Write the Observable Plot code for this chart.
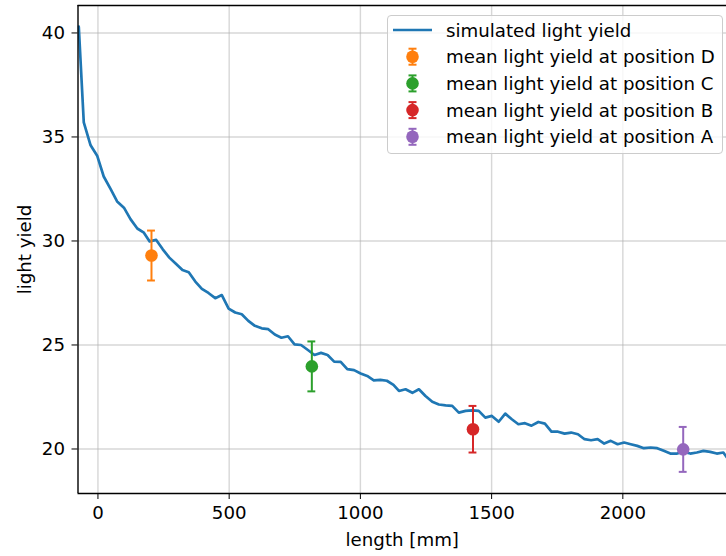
<!DOCTYPE html>
<html>
<head>
<meta charset="utf-8">
<script src="https://cdn.jsdelivr.net/npm/d3@7"></script>
<script src="https://cdn.jsdelivr.net/npm/@observablehq/plot@0.6"></script>
<style>
  html, body { margin: 0; padding: 0; background: #fff; }
  #wrap { position: relative; width: 726px; height: 556px; font-family: "DejaVu Sans", sans-serif; }
  #legend { position: absolute; left: 386.5px; top: 15px; width: 336px; height: 139px;
    border: 1px solid #cccccc; border-radius: 4px; background: rgba(255,255,255,0.8); box-sizing: border-box; }
</style>
</head>
<body>
<div id="wrap"></div>
<script>
// simulated light yield curve
const simX = [-73, -54, -28, -3, 22, 48, 73, 99, 124, 150, 175, 197, 222, 247, 272, 297, 322, 346, 371, 396, 421, 447, 472, 498, 523, 548, 573, 598, 624, 649, 674, 699, 724, 749, 774, 800, 825, 850, 875, 900, 925, 950, 976, 1001, 1026, 1051, 1076, 1101, 1126, 1147, 1172, 1198, 1223, 1248, 1274, 1299, 1325, 1350, 1375, 1401, 1426, 1451, 1476, 1501, 1527, 1552, 1577, 1602, 1627, 1652, 1678, 1703, 1728, 1753, 1778, 1803, 1829, 1854, 1879, 1904, 1929, 1954, 1980, 2005, 2030, 2055, 2080, 2106, 2131, 2156, 2181, 2207, 2232, 2257, 2282, 2307, 2333, 2358, 2383, 2410];
const simY = [40.3, 35.7, 34.6, 34.1, 33.1, 32.5, 31.9, 31.6, 31.05, 30.6, 30.4, 29.98, 30.05, 29.6, 29.2, 28.9, 28.6, 28.5, 28.05, 27.7, 27.5, 27.25, 27.4, 26.75, 26.56, 26.48, 26.16, 25.92, 25.8, 25.76, 25.5, 25.35, 25.42, 25.03, 25.0, 24.76, 24.52, 24.62, 24.52, 24.2, 24.19, 23.84, 23.79, 23.63, 23.51, 23.3, 23.32, 23.28, 23.08, 22.79, 22.87, 22.7, 22.87, 22.55, 22.27, 22.14, 22.1, 22.07, 21.75, 21.83, 21.86, 21.83, 21.51, 21.59, 21.31, 21.7, 21.43, 21.19, 21.24, 21.12, 21.3, 21.22, 20.83, 20.83, 20.74, 20.79, 20.71, 20.47, 20.42, 20.47, 20.26, 20.39, 20.23, 20.31, 20.23, 20.15, 20.04, 20.07, 20.04, 19.91, 19.78, 19.78, 19.86, 19.78, 19.83, 19.91, 19.86, 19.78, 19.83, 19.35];

// measured mean light yield with errors
const posLabels = ["D", "C", "B", "A"];
const posX = [204, 815, 1429, 2230];
const posY = [29.3, 23.97, 20.95, 19.98];
const posErr = [1.2, 1.2, 1.12, 1.08];
const posColors = ["#ff7f0e", "#2ca02c", "#d62728", "#9467bd"];

const xTicks = [0, 500, 1000, 1500, 2000];
const yTicks = [20, 25, 30, 35, 40];
const xDomain = [-76, 2395];
const yDomain = [17.86, 41.32];

const sim = simX.map((x, i) => ({x, y: simY[i]}));
const pts = posX.map((x, i) => ({label: posLabels[i], x, y: posY[i], err: posErr[i], color: posColors[i]}));
const capHalf = 15; // mm

const chart = Plot.plot({
  width: 726,
  height: 556,
  marginLeft: 77.5,
  marginRight: 0,
  marginTop: 5,
  marginBottom: 63,
  style: {fontFamily: "DejaVu Sans, sans-serif", fontSize: "18.2px", color: "#000", background: "transparent"},
  x: {domain: xDomain, ticks: xTicks, tickFormat: d3.format("d"), tickSize: 6, tickPadding: 7,
      label: "length [mm]", labelAnchor: "center", labelOffset: 52, labelArrow: false},
  y: {domain: yDomain, ticks: yTicks, tickFormat: d3.format("d"), tickSize: 6, tickPadding: 7,
      label: "light yield", labelAnchor: "center", labelOffset: 60, labelArrow: false},
  marks: [
    Plot.gridX(xTicks, {stroke: "#b0b0b0", strokeOpacity: 0.5, strokeWidth: 1.4}),
    Plot.gridY(yTicks, {stroke: "#b0b0b0", strokeOpacity: 0.5, strokeWidth: 1.4}),
    Plot.line(sim, {x: "x", y: "y", stroke: "#1f77b4", strokeWidth: 2.7, clip: true}),
    Plot.ruleX(pts, {x: "x", y1: d => d.y - d.err, y2: d => d.y + d.err, stroke: "color", strokeWidth: 2}),
    Plot.ruleY(pts, {y: d => d.y + d.err, x1: d => d.x - capHalf, x2: d => d.x + capHalf, stroke: "color", strokeWidth: 2}),
    Plot.ruleY(pts, {y: d => d.y - d.err, x1: d => d.x - capHalf, x2: d => d.x + capHalf, stroke: "color", strokeWidth: 2}),
    Plot.dot(pts, {x: "x", y: "y", r: 6.3, fill: "color", stroke: "none"}),
    Plot.ruleX([xDomain[0]], {stroke: "#000", strokeWidth: 1.4}),
    Plot.ruleY([yDomain[0]], {stroke: "#000", strokeWidth: 1.4}),
    Plot.ruleY([yDomain[1]], {stroke: "#000", strokeWidth: 1.4})
  ]
});

const wrap = document.getElementById("wrap");
wrap.appendChild(chart);

// legend (inside the axes, top right)
const legendItems = [{kind: "line", color: "#1f77b4", text: "simulated light yield"}]
  .concat(pts.map(p => ({kind: "err", color: p.color, text: "mean light yield at position " + p.label})));
const lg = document.createElement("div");
lg.id = "legend";
const rowH = 26.7, sx = 25.5, firstY = 15;
let svg = `<svg width="336" height="139" style="position:absolute;left:-1px;top:-1px;overflow:visible" font-family="DejaVu Sans, sans-serif" font-size="18.2">`;
legendItems.forEach((it, i) => {
  const cy = firstY + i * rowH;
  if (it.kind === "line") {
    svg += `<line x1="6" x2="45" y1="${cy}" y2="${cy}" stroke="${it.color}" stroke-width="2.7"/>`;
  } else {
    svg += `<line x1="${sx}" x2="${sx}" y1="${cy - 8}" y2="${cy + 8}" stroke="${it.color}" stroke-width="2"/>`;
    svg += `<line x1="${sx - 4}" x2="${sx + 4}" y1="${cy - 8}" y2="${cy - 8}" stroke="${it.color}" stroke-width="2"/>`;
    svg += `<line x1="${sx - 4}" x2="${sx + 4}" y1="${cy + 8}" y2="${cy + 8}" stroke="${it.color}" stroke-width="2"/>`;
    svg += `<circle cx="${sx}" cy="${cy}" r="6.3" fill="${it.color}"/>`;
  }
  svg += `<text x="59" y="${cy}" dy="0.36em" fill="#000">${it.text}</text>`;
});
svg += `</svg>`;
lg.innerHTML = svg;
wrap.appendChild(lg);
</script>
</body>
</html>
